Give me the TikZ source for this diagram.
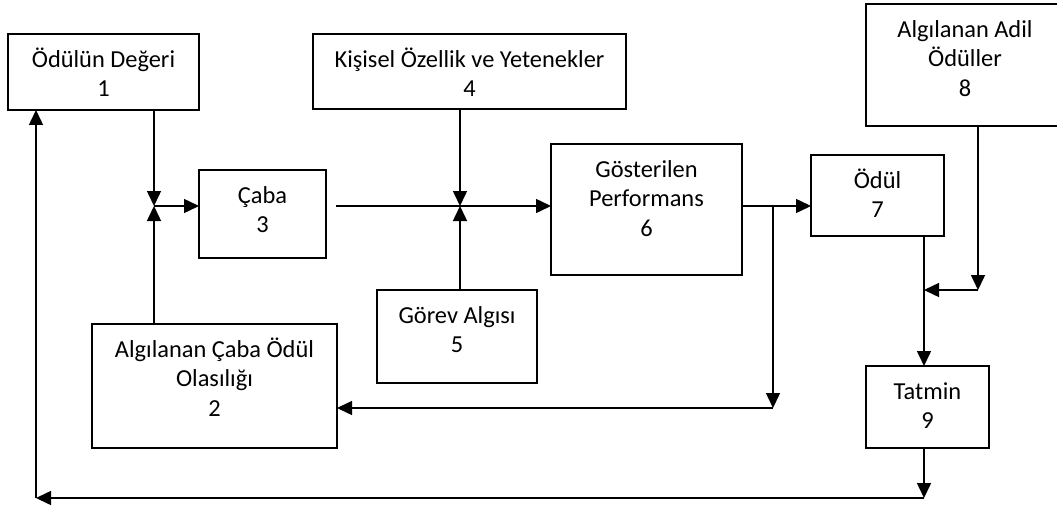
\documentclass[tikz,border=0pt]{standalone}
\usepackage{fontspec}
\setmainfont{Carlito}
\usetikzlibrary{arrows.meta,calc}
\begin{document}
\begin{tikzpicture}[x=1pt,y=-1pt,
  box/.style={draw=black, line width=1.5pt, inner sep=0pt, outer sep=0pt, fill=white},
  txt/.style={anchor=north, align=center, inner sep=0pt,
    font=\fontsize{24.4}{29.5}\selectfont, yshift=-12.6pt},
  conn/.style={line width=1.5pt, -{Triangle[length=15pt,width=14pt]}},
  plain/.style={line width=1.5pt}]
\clip (0,0) rectangle (1057,508);
\fill[white] (0,0) rectangle (1057,508);

% boxes
\node[box, minimum width=191pt, minimum height=76pt]  (b1) at (103.5,72)  {};
\node[box, minimum width=245pt, minimum height=124pt] (b2) at (214.5,386) {};
\node[box, minimum width=127pt, minimum height=88pt]  (b3) at (262.5,214) {};
\node[box, minimum width=313pt, minimum height=75pt]  (b4) at (469.5,71.5) {};
\node[box, minimum width=160pt, minimum height=93pt]  (b5) at (457,336.5) {};
\node[box, minimum width=191pt, minimum height=131pt] (b6) at (646.5,209.5) {};
\node[box, minimum width=133pt, minimum height=81pt]  (b7) at (877.5,195.5) {};
\node[box, minimum width=198pt, minimum height=122pt] (b8) at (965,65) {};
\node[box, minimum width=123pt, minimum height=82pt]  (b9) at (927.5,407) {};

% labels
\node[txt] (t1) at (b1.north) {\strut Ödülün Değeri\\1};
\node[txt] (t2) at (b2.north) {\strut Algılanan Çaba Ödül\\Olasılığı\\2};
\node[txt] (t3) at (b3.north) {\strut Çaba\\3};
\node[txt] (t4) at (b4.north) {\strut Kişisel Özellik ve Yetenekler\\4};
\node[txt] (t5) at (b5.north) {\strut Görev Algısı\\5};
\node[txt] (t6) at (b6.north) {\strut Gösterilen\\Performans\\6};
\node[txt] (t7) at (b7.north) {\strut Ödül\\7};
\node[txt] (t8) at (b8.north) {\strut Algılanan Adil\\Ödüller\\8};
\node[txt] (t9) at (b9.north) {\strut Tatmin\\9};

% junctions and bends
\coordinate (J1) at (154,206);
\coordinate (J2) at (460,206);
\coordinate (J3) at (773,206);
\coordinate (K)  at (773,408);
\coordinate (N)  at (978,290);
\coordinate (P)  at (924,290);
\coordinate (M)  at (924,498);
\coordinate (L)  at (36,498);

% effort inputs
\draw[conn] (b1.south -| J1) -- (J1);
\draw[conn] (b2.north -| J1) -- (J1);
\draw[conn] (J1) -- (b3.west |- J1);

% performance inputs
\draw[conn] ([xshift=10pt]b3.east |- J2) -- (b6.west |- J2);
\draw[conn] (b4.south -| J2) -- (J2);
\draw[conn] (b5.north -| J2) -- (J2);

% reward
\draw[conn] (b6.east |- J3) -- (b7.west |- J3);
\draw[conn] (J3) -- (K);
\draw[conn] (K) -- (b2.east |- K);

% fair rewards and satisfaction
\draw[conn] (b8.south -| N) -- (N);
\draw[conn] (N) -- (P);
\draw[conn] (b7.south -| P) -- (b9.north -| P);

% feedback loop
\draw[conn] (b9.south -| M) -- (M);
\draw[conn] (M) -- (L);
\draw[conn] (L) -- (b1.south -| L);
\end{tikzpicture}
\end{document}
